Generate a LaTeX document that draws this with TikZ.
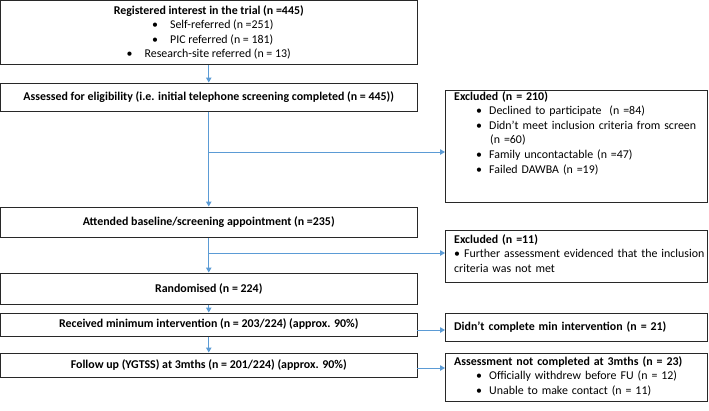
\documentclass[tikz,border=0pt]{standalone}
\usepackage{fontspec}
\setmainfont{Carlito}
\usetikzlibrary{arrows.meta}
\definecolor{conn}{RGB}{91,155,213}
\definecolor{frame}{RGB}{40,40,40}
\tikzset{
  box/.style={draw=frame, line width=1pt, inner sep=0pt, align=center},
  mainbox/.style={box, minimum width=417pt},
  sidebox/.style={box, minimum width=262pt},
  txt/.style={inner sep=0pt, align=left, text width=300pt, anchor=north west},
  conline/.style={draw=conn, line width=1pt},
  arr/.style={conline, -{Triangle[length=5pt,width=5.5pt]}},
}
\newcommand{\bul}[1]{\par\hangindent=36pt\hangafter=1\noindent\hspace{22pt}\makebox[13pt][l]{•}#1}
\begin{document}
\begin{tikzpicture}[x=1pt,y=-1pt,font=\fontsize{11.9}{14.6}\selectfont]
\useasboundingbox (0,0) rectangle (709,410);
% main column
\node[mainbox, minimum height=64pt] (B1) at (208.75,32.5) {\textbf{Registered interest in the trial (n =445)}\\
\hspace*{8pt}•\hspace{12pt}Self-referred (n =251)\\
\hspace*{8pt}•\hspace{12pt}PIC referred (n = 181)\\
•\hspace{12pt}Research-site referred (n = 13)};
\node[mainbox, minimum height=28pt] (B2) at (208.75,97) {\textbf{Assessed for eligibility (i.e. initial telephone screening completed (n = 445))}};
\node[mainbox, minimum height=30pt] (B3) at (208.75,222) {\textbf{Attended baseline/screening appointment (n =235)}};
\node[mainbox, minimum height=31pt] (B4) at (208.75,288.5) {\textbf{Randomised (n = 224)}};
\node[mainbox, minimum height=23pt] (B5) at (208.75,324.5) {\textbf{Received minimum intervention (n = 203/224) (approx. 90\%)}};
\node[mainbox, minimum height=24pt] (B6) at (208.75,365) {\textbf{Follow up (YGTSS) at 3mths (n = 201/224) (approx. 90\%)}};
% side boxes
\node[sidebox, minimum height=112pt] (E1) at (576.5,146) {};
\node[txt] (E1t) at (454,91) {\textbf{Excluded (n = 210)}
\bul{Declined to participate\ \ (n =84)}
\bul{Didn’t meet inclusion criteria from screen\newline (n =60)}
\bul{Family uncontactable (n =47)}
\bul{Failed DAWBA (n =19)}};
\node[sidebox, minimum height=52pt] (E2) at (576.5,256) {};
\node[txt] (E2t) at (454,234) {\textbf{Excluded (n =11)}\\
• Further assessment evidenced that the inclusion\\
criteria was not met};
\node[sidebox, minimum height=28pt] (E3) at (576.5,327) {};
\node[txt, anchor=west] (E3t) at (454,327) {\textbf{Didn’t complete min intervention (n = 21)}};
\node[sidebox, minimum height=48pt] (E4) at (576.5,377) {};
\node[txt] (E4t) at (454,356) {\textbf{Assessment not completed at 3mths (n = 23)}
\bul{Officially withdrew before FU (n = 12)}
\bul{Unable to make contact (n = 11)}};
% connectors
\coordinate (j1) at (208.75,152);
\coordinate (j2) at (208.75,253);
\coordinate (j3) at (417.25,330);
\coordinate (j4) at (417.25,368);
\draw[arr] (B1) -- (B2);
\draw[arr] (B2) -- (B3);
\draw[arr] (j1) -- (j1 -| E1.west);
\draw[arr] (B3) -- (B4);
\draw[arr] (j2) -- (j2 -| E2.west);
\draw[arr] (B4) -- (B5);
\draw[arr] (B5) -- (B6);
\draw[arr] (j3) -- (j3 -| E3.west);
\draw[arr] (j4) -- (j4 -| E4.west);
\end{tikzpicture}
\end{document}
